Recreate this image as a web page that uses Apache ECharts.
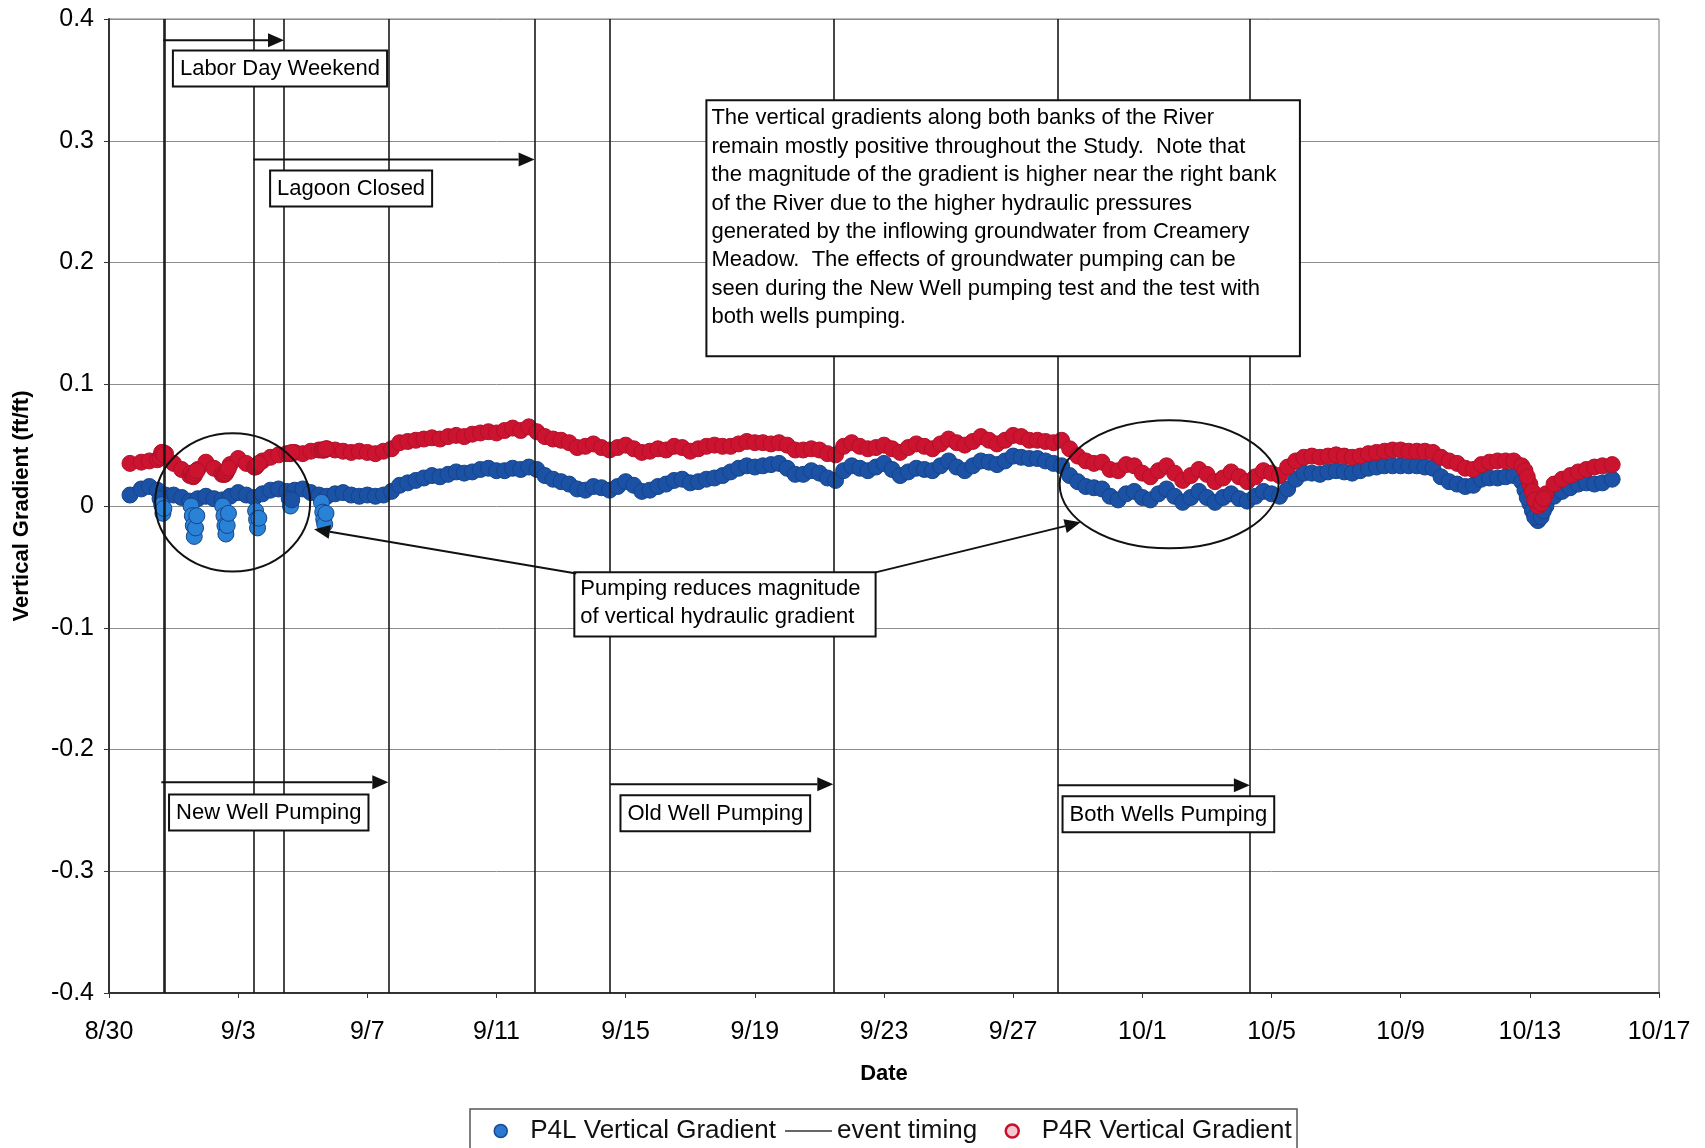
<!DOCTYPE html>
<html><head><meta charset="utf-8">
<script src="https://cdn.jsdelivr.net/npm/echarts@6/dist/echarts.min.js"></script>
<style>html,body{margin:0;padding:0;background:#fff}#c{width:1705px;height:1148px}</style>
</head><body><div id="c"></div>
<script>
// ---------- data (x = days after 8/30) ----------
const xTickLabels = ['8/30','9/3','9/7','9/11','9/15','9/19','9/23','9/27','10/1','10/5','10/9','10/13','10/17'];

const times = [
  0.65,
  1,1.25,1.5,1.75, 2,2.25,2.5,2.75, 3,3.25,3.5,3.75, 4,4.25,4.5,4.75, 5,5.25,5.5,5.75,
  6,6.25,6.5,6.75, 7,7.25,7.5,7.75, 8,8.25,8.5,8.75, 9,9.25,9.5,9.75, 10,10.25,10.5,10.75,
  11,11.25,11.5,11.75, 12,12.25,12.5,12.75, 13,13.25,13.5,13.75, 14,14.25,14.5,14.75, 15,15.25,15.5,15.75,
  16,16.25,16.5,16.75, 17,17.25,17.5,17.75, 18,18.25,18.5,18.75, 19,19.25,19.5,19.75, 20,20.25,20.5,20.75,
  21,21.25,21.5,21.75, 22,22.25,22.5,22.75, 23,23.25,23.5,23.75, 24,24.25,24.5,24.75, 25,25.25,25.5,25.75,
  26,26.25,26.5,26.75, 27,27.25,27.5,27.75, 28,28.25,28.5,28.75, 29,29.25,29.5,29.75, 30,30.25,30.5,30.75,
  31,31.25,31.5,31.75, 32,32.25,32.5,32.75, 33,33.25,33.5,33.75, 34,34.25,34.5,34.75, 35,35.25,35.5,35.75,
  36,36.25,36.5,36.75, 37,37.25,37.5,37.75, 38,38.25,38.5,38.75, 39,39.25,39.5,39.75, 40,40.25,40.5,40.75,
  41,41.25,41.5,41.75, 42,42.25,42.5,42.75, 43,43.25,43.5,43.75, 44,44.25,44.5,44.75, 45,45.25,45.5,45.75,
  46,46.25,46.55
];

const p4l = [
  0.009,
  0.014,0.016,0.013,0.009, 0.009,0.007,0.004,0.006, 0.008,0.006,0.005,0.008, 0.011,0.009,0.007,0.010, 0.013,0.014,0.012,0.013,
  0.014,0.011,0.009,0.008, 0.010,0.011,0.009,0.008, 0.009,0.008,0.009,0.012, 0.017,0.019,0.021,0.023, 0.025,0.024,0.026,0.028,
  0.027,0.028,0.030,0.031, 0.029,0.029,0.031,0.030, 0.032,0.030,0.025,0.022, 0.020,0.018,0.014,0.013, 0.016,0.015,0.013,0.016,
  0.020,0.017,0.012,0.013, 0.016,0.018,0.021,0.022, 0.019,0.020,0.022,0.023, 0.025,0.028,0.031,0.033, 0.032,0.033,0.034,0.035,
  0.031,0.026,0.026,0.029, 0.027,0.023,0.021,0.029, 0.033,0.031,0.029,0.032, 0.035,0.030,0.025,0.028, 0.031,0.030,0.029,0.033,
  0.037,0.032,0.029,0.033, 0.037,0.036,0.034,0.037, 0.041,0.040,0.039,0.039, 0.037,0.035,0.033,0.025, 0.020,0.016,0.015,0.014,
  0.008,0.005,0.010,0.012, 0.007,0.005,0.010,0.014, 0.008,0.003,0.007,0.012, 0.007,0.003,0.007,0.010, 0.006,0.004,0.008,0.012,
  0.010,0.008,0.014,0.022, 0.027,0.027,0.026,0.028, 0.029,0.028,0.027,0.029, 0.031,0.032,0.033,0.033, 0.033,0.033,0.033,0.032,
  0.031,0.024,0.020,0.018, 0.016,0.017,0.022,0.023, 0.023,0.024,0.025,0.020, 0.002,-0.012,0.000,0.008, 0.012,0.015,0.018,0.019,
  0.018,0.019,0.022
];

const p4r = [
  0.035,
  0.036,0.037,0.038,0.043, 0.035,0.030,0.025,0.030, 0.036,0.031,0.026,0.034, 0.039,0.035,0.032,0.037, 0.040,0.042,0.043,0.044,
  0.043,0.045,0.046,0.047, 0.046,0.045,0.044,0.045, 0.044,0.043,0.045,0.047, 0.052,0.053,0.054,0.055, 0.056,0.055,0.057,0.058,
  0.057,0.059,0.060,0.061, 0.060,0.062,0.064,0.062, 0.065,0.061,0.057,0.055, 0.054,0.052,0.048,0.049, 0.051,0.048,0.046,0.048,
  0.050,0.047,0.044,0.045, 0.047,0.046,0.049,0.048, 0.045,0.047,0.049,0.050, 0.049,0.049,0.051,0.053, 0.052,0.052,0.051,0.052,
  0.050,0.046,0.046,0.047, 0.046,0.043,0.042,0.049, 0.052,0.049,0.047,0.048, 0.050,0.047,0.044,0.048, 0.051,0.049,0.047,0.051,
  0.055,0.052,0.050,0.053, 0.057,0.054,0.051,0.054, 0.058,0.057,0.054,0.054, 0.053,0.052,0.054,0.047, 0.041,0.037,0.035,0.036,
  0.030,0.029,0.034,0.033, 0.027,0.024,0.029,0.033, 0.027,0.021,0.025,0.030, 0.026,0.020,0.023,0.028, 0.024,0.020,0.024,0.029,
  0.027,0.025,0.032,0.037, 0.040,0.041,0.040,0.041, 0.042,0.041,0.040,0.041, 0.043,0.044,0.045,0.046, 0.046,0.045,0.045,0.045,
  0.044,0.040,0.037,0.035, 0.031,0.030,0.034,0.036, 0.037,0.037,0.037,0.033, 0.018,0.000,0.010,0.018, 0.022,0.025,0.028,0.030,
  0.032,0.033,0.034
];

// extra close-spaced samples during pumping drawdowns and the 10/13 drop
const extraTimes = [1.58,1.63,1.67,1.70, 2.54,2.58,2.61,2.64,2.68,2.72, 3.52,3.56,3.59,3.62,3.66,3.70,
  4.54,4.57,4.60,4.64, 5.58,5.62,5.66, 6.58,6.62,6.65,6.68,6.72, 43.85,43.92,44.08,44.15,44.35,44.42];
const extraP4L = [0.006,0.001,-0.006,-0.002, 0.000,-0.008,-0.016,-0.025,-0.018,-0.008, 0.000,-0.008,-0.016,-0.023,-0.016,-0.006,
  -0.004,-0.011,-0.018,-0.010, 0.006,0.000,0.005, 0.003,-0.005,-0.011,-0.015,-0.006, 0.013,0.007,-0.004,-0.009,-0.009,-0.004];
const extraP4R = [0.040,0.044,0.044,0.042, 0.027,0.025,0.024,0.025,0.027,0.029, 0.027,0.026,0.026,0.027,0.029,0.031,
  0.032,0.033,0.034,0.035, 0.043,0.043,0.044, 0.046,0.046,0.046,0.046,0.047, 0.029,0.024,0.012,0.005,0.002,0.006];

// event timing (days after 8/30)
const eventDays = [1.68, 1.72, 4.47, 5.42, 8.65, 13.18, 15.52, 22.43, 29.38, 35.33];

// ---------- build ----------
const FF = '"Liberation Sans", Arial, Helvetica, sans-serif';
const BLUE = '#1b52a6', BLUE_B = '#16448a', BLUE_LIGHT = '#2a82d6';
const RED = '#cc1431', RED_B = '#b30f29';

const p4lData = times.map((t, i) => [t, p4l[i]])
  .concat(extraTimes.map((t, i) => ({ value: [t, extraP4L[i]], itemStyle: extraP4L[i] < 0.004 && t < 10 ? { color: BLUE_LIGHT, borderColor: BLUE_B } : undefined })));
const p4rData = times.map((t, i) => [t, p4r[i]]).concat(extraTimes.map((t, i) => [t, extraP4R[i]]));

const legendBase = {
  top: 1117, orient: 'horizontal', padding: 0, itemGap: 0,
  textStyle: { fontFamily: FF, fontSize: 26, color: '#111', lineHeight: 28 }
};

const option = {
  animation: false,
  backgroundColor: '#ffffff',
  grid: { left: 109, right: 46, top: 19, bottom: 155, show: true, borderColor: '#777', borderWidth: 1 },
  xAxis: {
    type: 'value', min: 0, max: 48, interval: 4,
    name: 'Date', nameLocation: 'middle', nameGap: 70,
    nameTextStyle: { fontFamily: FF, fontSize: 22, fontWeight: 'bold', color: '#000' },
    axisLine: { onZero: false, lineStyle: { color: '#333', width: 2 } },
    axisTick: { show: true, length: 5, lineStyle: { color: '#333' } },
    axisLabel: { fontFamily: FF, fontSize: 25, color: '#000', margin: 27,
      formatter: v => xTickLabels[Math.round(v / 4)] },
    splitLine: { show: false }
  },
  yAxis: {
    type: 'value', min: -0.4, max: 0.4, interval: 0.1,
    name: 'Vertical Gradient (ft/ft)', nameLocation: 'middle', nameGap: 76, nameRotate: 90,
    nameTextStyle: { fontFamily: FF, fontSize: 22, fontWeight: 'bold', color: '#000' },
    axisLine: { show: true, lineStyle: { color: '#333', width: 2 } },
    axisTick: { show: true, length: 5, lineStyle: { color: '#333' } },
    axisLabel: { fontFamily: FF, fontSize: 25, color: '#000', margin: 15,
      formatter: v => String(Math.round(v * 10) / 10) },
    splitLine: { show: true, lineStyle: { color: '#8c8c8c', width: 1 } }
  },
  legend: [
    Object.assign({}, legendBase, { left: 493.5, itemWidth: 13, itemHeight: 13,
      textStyle: Object.assign({}, legendBase.textStyle, { padding: [0, 0, 0, 18] }),
      data: [{ name: 'P4L Vertical Gradient', icon: 'circle', itemStyle: { color: '#2a78cf', borderColor: '#1a4a94', borderWidth: 1.5 } }] }),
    Object.assign({}, legendBase, { left: 785, itemWidth: 47, itemHeight: 13,
      data: [{ name: 'event timing', icon: 'path://M0,0H47V1.6H0Z', itemStyle: { color: '#333', borderWidth: 0 } }] }),
    Object.assign({}, legendBase, { left: 1004.5, itemWidth: 13, itemHeight: 13,
      textStyle: Object.assign({}, legendBase.textStyle, { padding: [0, 0, 0, 18] }),
      data: [{ name: 'P4R Vertical Gradient', icon: 'circle', itemStyle: { color: '#f4c7cf', borderColor: '#c8102e', borderWidth: 2.5 } }] })
  ],
  series: [
    {
      name: 'P4L Vertical Gradient', type: 'scatter', z: 2,
      symbol: 'circle', symbolSize: 16,
      itemStyle: { color: BLUE, borderColor: BLUE_B, borderWidth: 1, opacity: 1 },
      data: p4lData
    },
    {
      name: 'event timing', type: 'line', z: 3, symbol: 'none',
      lineStyle: { color: '#222', width: 1.5 },
      itemStyle: { color: '#333' },
      data: [],
      markLine: {
        silent: true, symbol: ['none', 'none'], animation: false,
        label: { show: false },
        lineStyle: { color: '#1a1a1a', width: 1.6, type: 'solid' },
        data: eventDays.map(d => ({ xAxis: d }))
      }
    },
    {
      name: 'P4R Vertical Gradient', type: 'scatter', z: 4,
      symbol: 'circle', symbolSize: 16,
      itemStyle: { color: RED, borderColor: RED_B, borderWidth: 1, opacity: 1 },
      data: p4rData
    }
  ]
};

const chart = echarts.init(document.getElementById('c'), null, { renderer: 'canvas' });
chart.setOption(option);

// ---------- annotations placed in data coordinates ----------
const px = (d, v) => chart.convertToPixel({ xAxisIndex: 0, yAxisIndex: 0 }, [d, v]);
const AFONT = '22px ' + FF;
const g = [];
function box(d, v, text, padding, lh) {
  const p = px(d, v);
  g.push({ type: 'text', z: 100, x: p[0], y: p[1],
    style: { text: text, font: AFONT, fill: '#000', backgroundColor: '#fff', borderColor: '#111', borderWidth: 2,
      padding: padding || [5, 6, 4, 6], lineHeight: lh || 25, align: 'left', verticalAlign: 'top' } });
}
function rectBox(d0, v0, d1, v1, text, dx, dy, lh) {
  const a = px(d0, v0), b = px(d1, v1);
  g.push({ type: 'rect', z: 100, shape: { x: a[0], y: a[1], width: b[0] - a[0], height: b[1] - a[1] },
    style: { fill: '#fff', stroke: '#111', lineWidth: 2 } });
  g.push({ type: 'text', z: 101, x: a[0] + dx, y: a[1] + dy,
    style: { text: text, font: AFONT, fill: '#000', lineHeight: lh, align: 'left', verticalAlign: 'top' } });
}
function arrow(d0, v0, d1, v1) {
  const a = px(d0, v0), b = px(d1, v1);
  const ang = Math.atan2(b[1] - a[1], b[0] - a[0]);
  const L = 16, W = 7;
  const bx = b[0] - L * Math.cos(ang), by = b[1] - L * Math.sin(ang);
  g.push({ type: 'line', z: 100, shape: { x1: a[0], y1: a[1], x2: bx, y2: by }, style: { stroke: '#111', lineWidth: 2 } });
  g.push({ type: 'polygon', z: 100, shape: { points: [[b[0], b[1]],
    [bx - W * Math.sin(ang), by + W * Math.cos(ang)], [bx + W * Math.sin(ang), by - W * Math.cos(ang)]] },
    style: { fill: '#111' } });
}
function ell(d, v, rd, rv) {
  const c = px(d, v), e = px(d + rd, v - rv);
  g.push({ type: 'ellipse', z: 99, shape: { cx: c[0], cy: c[1], rx: e[0] - c[0], ry: e[1] - c[1] },
    style: { fill: 'none', stroke: '#111', lineWidth: 2 } });
}

arrow(1.68, 0.3825, 5.42, 0.3825);
box(2.01, 0.3733, 'Labor Day Weekend');
arrow(4.47, 0.2846, 13.18, 0.2846);
box(5.02, 0.2748, 'Lagoon Closed');
rectBox(18.50, 0.3333, 36.88, 0.1230,
  'The vertical gradients along both banks of the River\n' +
  'remain mostly positive throughout the Study.  Note that\n' +
  'the magnitude of the gradient is higher near the right bank\n' +
  'of the River due to the higher hydraulic pressures\n' +
  'generated by the inflowing groundwater from Creamery\n' +
  'Meadow.  The effects of groundwater pumping can be\n' +
  'seen during the New Well pumping test and the test with\n' +
  'both wells pumping.', 5, 4, 28.4);
rectBox(14.41, -0.0545, 23.74, -0.1071, 'Pumping reduces magnitude\nof vertical hydraulic gradient', 6, 3, 28);
arrow(14.47, -0.0554, 6.35, -0.019);
arrow(23.74, -0.0545, 30.09, -0.0134);
ell(3.83, 0.003, 2.40, 0.0567);
ell(32.83, 0.0178, 3.39, 0.0526);
arrow(1.62, -0.2269, 8.65, -0.2269);
box(1.89, -0.2377, 'New Well Pumping');
arrow(15.52, -0.2286, 22.43, -0.2286);
box(15.87, -0.2385, 'Old Well Pumping');
arrow(29.38, -0.2294, 35.33, -0.2294);
box(29.56, -0.2393, 'Both Wells Pumping');

// legend frame (runs off the bottom edge as in the original)
g.push({ type: 'rect', z: 50, shape: { x: 470, y: 1109, width: 827, height: 60 },
  style: { fill: 'none', stroke: '#555', lineWidth: 1.5 } });

chart.setOption({ graphic: { elements: g } });
</script>
</body></html>
